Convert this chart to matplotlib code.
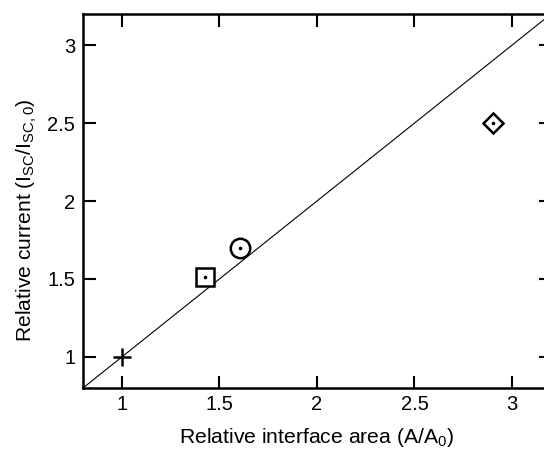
import matplotlib
matplotlib.use("Agg")
import matplotlib.pyplot as plt
import numpy as np

plt.rcParams['font.family'] = ['Liberation Sans', 'DejaVu Sans']
plt.rcParams['mathtext.fontset'] = 'custom'
plt.rcParams['mathtext.rm'] = 'Liberation Sans'
plt.rcParams['mathtext.it'] = 'Liberation Sans:italic'

# data
area = [1.0, 1.425, 1.605, 2.905]
current = [1.0, 1.515, 1.697, 2.498]
markers = ['+', 's', 'o', 'D']
sizes = [13, 13, 14, 10]
center_dot = [False, True, True, True]
ref_line = [0.8, 3.2]
xticks = [1, 1.5, 2, 2.5, 3]
yticks = [1, 1.5, 2, 2.5, 3]
xticklabels = ['1', '1.5', '2', '2.5', '3']
yticklabels = ['1', '1.5', '2', '2.5', '3']

fig = plt.figure(figsize=(5.44, 4.53), dpi=100)
ax = fig.add_axes([83/544, 1-388/453, (551-83)/544, (388-14)/453])

ax.plot(ref_line, ref_line, color='black', lw=0.8, zorder=1)
for x, y, m, s, d in zip(area, current, markers, sizes, center_dot):
    ax.plot([x], [y], marker=m, ms=s, mfc='white' if m != '+' else 'black',
            mec='black', mew=1.8, ls='none', zorder=3, clip_on=False)
    if d:
        ax.plot([x], [y], marker='o', ms=1.6, color='black', ls='none', zorder=4)

ax.set_xlim(0.8, 3.2)
ax.set_ylim(0.8, 3.2)
ax.set_xticks(xticks)
ax.set_xticklabels(xticklabels)
ax.set_yticks(yticks)
ax.set_yticklabels(yticklabels)
ax.tick_params(direction='in', length=9, width=1.5, top=True, right=True,
               labelsize=14.5)
ax.tick_params(axis='x', pad=5)
ax.tick_params(axis='y', pad=5.5)
for sp in ax.spines.values():
    sp.set_linewidth(1.8)

ax.set_xlabel(r'Relative interface area (A/A$_\mathregular{0}$)', fontsize=15.2, labelpad=9)
ax.set_ylabel(r'Relative current (I$_\mathregular{SC}$/I$_\mathregular{SC,0}$)', fontsize=15.2)
ax.yaxis.set_label_coords(-0.094, 0.449)

fig.savefig('out.png', dpi=100)
